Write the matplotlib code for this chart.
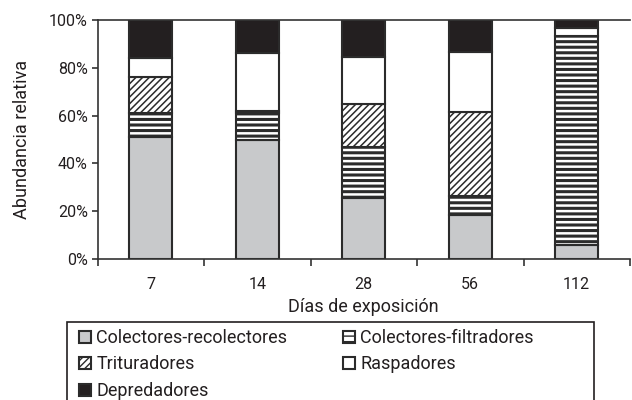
import matplotlib
matplotlib.use("Agg")
import matplotlib.pyplot as plt
from matplotlib.patches import Rectangle
import numpy as np

plt.rcParams['font.family'] = ["Roboto", "DejaVu Sans"]

days = ["7", "14", "28", "56", "112"]
recolectores = [51, 50, 25.5, 18.5, 6]
filtradores = [10, 11, 21.5, 8, 87.5]
trituradores = [15, 1, 18, 35, 0]
raspadores = [8, 24, 19.5, 25, 3]
depredadores = [16, 14, 15.5, 13.5, 3.5]

series = [
    ("Colectores-recolectores", recolectores, "#c8c9cb", "", 1.0),
    ("Colectores-filtradores", filtradores, "white", "---", 2.2),
    ("Trituradores", trituradores, "white", "/////", 1.1),
    ("Raspadores", raspadores, "white", "", 1.0),
    ("Depredadores", depredadores, "#231f20", "", 1.0),
]

W, H = 632, 400
fig = plt.figure(figsize=(W/100, H/100), dpi=100)
ax = fig.add_axes([97.5/W, 1-259/H, (630-97.5)/W, (259-20)/H])

x = np.arange(1, len(days)+1)
bottom = np.zeros(len(days))
handles = {}
edge = "#2b2b2b"
for name, vals, color, hatch, hlw in series:
    plt.rcParams['hatch.linewidth'] = hlw
    vals = np.array(vals, dtype=float)
    b = ax.bar(x, vals, width=0.4, bottom=bottom, color=color, edgecolor=edge,
               hatch=hatch, linewidth=1.5, label=name, zorder=2)
    handles[name] = b
    bottom += vals

ax.set_xlim(0.5, len(days)+0.5)
ax.set_ylim(0, 100)
ax.set_yticks(np.arange(0, 101, 20))
ax.set_yticklabels([f"{v}%" for v in range(0, 101, 20)])
ax.set_xticks(x)
ax.set_xticklabels(days)
ax.tick_params(axis='x', which='major', length=0, pad=13)
ax.set_xticks(np.arange(0.5, len(days)+1, 1), minor=True)
ax.tick_params(axis='x', which='minor', length=5, width=1.2, color="#333333", direction='out')
ax.tick_params(axis='y', length=4, width=1.2, color="#333333", direction='out', pad=3)
ax.tick_params(labelsize=11.5, labelcolor="#231f20")

for s in ["left", "bottom", "top"]:
    ax.spines[s].set_color("#333333")
    ax.spines[s].set_linewidth(1.2)
ax.spines["right"].set_visible(False)

ax.set_xlabel("Días de exposición", fontsize=13, color="#231f20", labelpad=4)
ax.set_ylabel("Abundancia relativa", fontsize=13, color="#231f20", labelpad=13)

order = ["Colectores-recolectores", "Trituradores", "Depredadores",
         "Colectores-filtradores", "Raspadores"]
leg = fig.legend([handles[n] for n in order], order, ncol=2,
                 loc="upper left", bbox_to_anchor=(79/W, 1-329/H),
                 fontsize=13, frameon=False,
                 handlelength=0.65, handleheight=0.65,
                 handletextpad=0.3, labelspacing=0.47, borderpad=0,
                 columnspacing=3.1, borderaxespad=0)
for t in leg.get_texts():
    t.set_color("#231f20")

fig.patches.append(Rectangle((67/W, -0.01), (594-67)/W, (1-322/H)+0.01,
                             transform=fig.transFigure, fill=False,
                             edgecolor="#231f20", linewidth=1.2))

fig.savefig("out.png", dpi=100)
